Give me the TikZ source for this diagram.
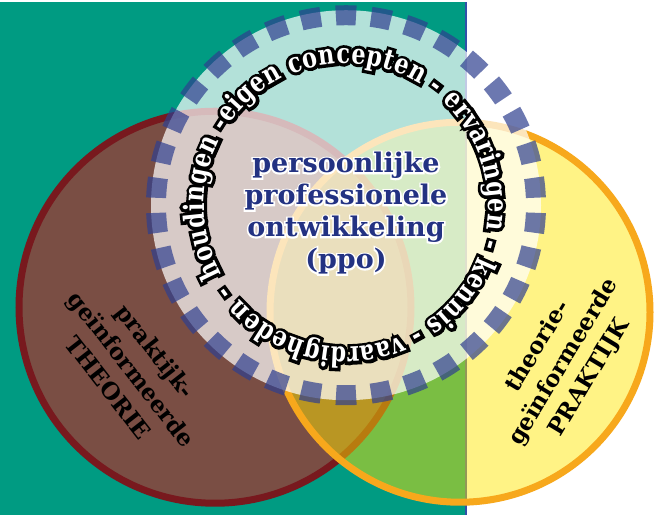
\documentclass[tikz,border=0pt]{standalone}
\usepackage{fontspec}
\usetikzlibrary{decorations.text}

\newfontfamily\ringface{DejaVu Serif}[FakeStretch=0.8]
\newfontfamily\ringedge{DejaVu Serif}[FakeStretch=0.8,BoldFeatures={FakeBold=22}]
\newfontfamily\ppoface{DejaVu Serif}
\newfontfamily\ppoedge{DejaVu Serif}[BoldFeatures={FakeBold=12}]

\newcommand\ringwhite{\ringface\bfseries\fontsize{28}{30}\selectfont\color{white}}
\newcommand\ringblack{\ringedge\bfseries\fontsize{28}{30}\selectfont\color{black}}

\definecolor{bgteal}{RGB}{0,155,130}
\definecolor{theobrown}{RGB}{122,78,68}
\definecolor{theored}{RGB}{120,25,30}
\definecolor{praksun}{RGB}{255,230,0}
\definecolor{prakorange}{RGB}{247,168,28}
\definecolor{ringblue}{RGB}{47,63,143}
\definecolor{ppoblue}{RGB}{35,50,130}
\definecolor{splitblue}{RGB}{50,80,170}

\begin{document}
\begin{tikzpicture}[x=1pt,y=1pt]

    \tikzset{
        sidetext/.style={align=center, inner sep=0pt, text=black,
            font=\ppoface\bfseries\fontsize{23}{30}\selectfont},
        ppotext/.style={align=center, inner sep=0pt, text=ppoblue,
            font=\ppoface\bfseries\fontsize{27}{32}\selectfont},
        ppoglow/.style={ppotext, text=white,
            font=\ppoedge\bfseries\fontsize{27}{32}\selectfont},
        dashring/.style={draw=ringblue, draw opacity=0.7, line width=20pt,
            dash pattern=on 20pt off 15.11pt}
    }

    % background
    \fill[white] (0,0) rectangle (661,-513);
    \fill[bgteal] (0,0) rectangle (466,-513);
    \draw[splitblue, line width=2pt] (466,0) -- (466,-513);

    \coordinate (theo) at (215,-305);
    \coordinate (prak) at (460,-310);
    \coordinate (ppo) at (346,-203);

    % the two circles
    \draw[theored, fill=theobrown, line width=7pt] (theo) circle[radius=196];
    \draw[prakorange, fill=praksun, fill opacity=0.48, line width=7pt] (prak) circle[radius=190];

    % ppo ring
    \fill[white, opacity=0.7] (ppo) circle[radius=195];
    \draw[dashring] (ppo) ++(93:190) arc[start angle=93, delta angle=-360, radius=190];

    % black edge first, white letters on top
    \foreach \ringfmt in {\ringblack,\ringwhite} {
        \path[decorate, decoration={text along path, text align=fit to path,
            text={|\ringfmt|houdingen -eigen concepten - ervaringen - kennis - vaardigheden -}}]
            (ppo) ++(209:142) arc[start angle=209, delta angle=-355, radius=142];
    }

    \node[ppoglow] (ppoedge) at (346,-211) {persoonlijke\\professionele\\ontwikkeling\\(ppo)};
    \node[ppotext] (ppolabel) at (346,-211) {persoonlijke\\professionele\\ontwikkeling\\(ppo)};

    \node[sidetext, rotate=-52] (theorie) at (132,-367) {praktijk-\\geïnformeerde\\THEORIE};
    \node[sidetext, rotate=59] (praktijk) at (564,-360) {theorie-\\geïnformeerde\\PRAKTIJK};

\end{tikzpicture}
\end{document}
